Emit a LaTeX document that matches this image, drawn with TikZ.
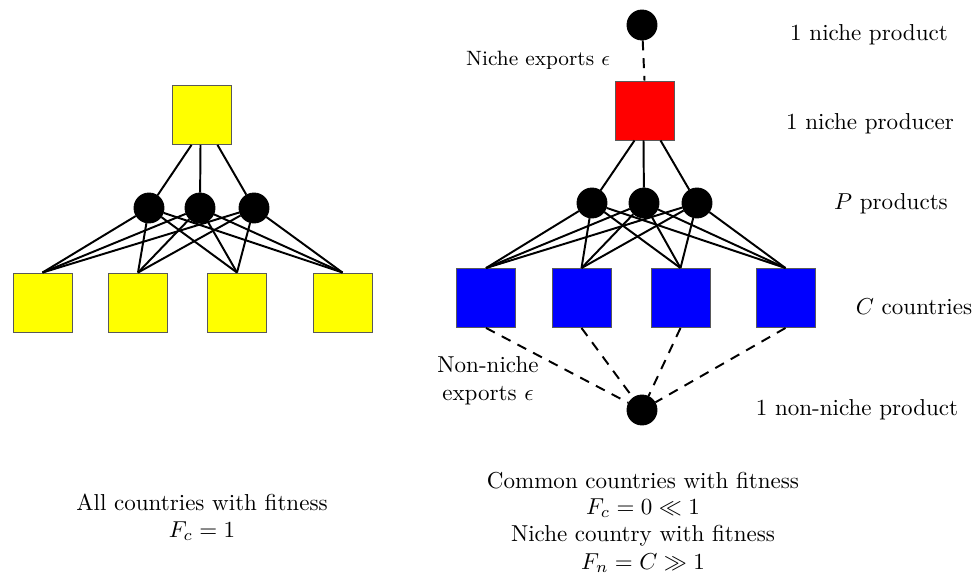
\documentclass[tikz,border=0pt]{standalone}
\usetikzlibrary{calc}
\definecolor{pyellow}{RGB}{255,255,0}
\definecolor{pred}{RGB}{255,0,0}
\definecolor{pblue}{RGB}{0,0,255}
\begin{document}
\begin{tikzpicture}[x=0.434pt,y=-0.434pt,
  sq/.style={draw=black!65, line width=0.4pt, minimum size=25.6pt, inner sep=0pt},
  prod/.style={circle, fill=black, draw=black, minimum size=13pt, inner sep=0pt},
  link/.style={line width=0.85pt},
  dlink/.style={line width=0.85pt, dash pattern=on 4.3pt off 3.4pt},
  lab/.style={inner sep=0pt, align=center}]
\useasboundingbox (0,0) rectangle (974,575);

% ---------- left panel ----------
\node[sq, fill=pyellow] (LT) at (201.5,115) {};
\node[prod] (Lc1) at (149,208) {};
\node[prod] (Lc2) at (200,208) {};
\node[prod] (Lc3) at (254,208) {};
\node[sq, fill=pyellow] (Ls1) at (42.5,302.5) {};
\node[sq, fill=pyellow] (Ls2) at (138,302.5) {};
\node[sq, fill=pyellow] (Ls3) at (237,302.5) {};
\node[sq, fill=pyellow] (Ls4) at (342.5,302.5) {};

\draw[link] ($(LT.south)+(-10,0)$) -- (Lc1);
\draw[link] ($(LT.south)+(-1,0)$) -- (Lc2);
\draw[link] ($(LT.south)+(16,0)$) -- (Lc3);
\foreach \c in {1,2,3}{
  \foreach \s in {1,2,3,4}{
    \draw[link] (Lc\c) -- (Ls\s.north);
  }
}

\node[lab] (Lcap1) at (202,502) {All countries with fitness};
\node[lab] (Lcap2) at (202,531) {$F_c = 1$};

% ---------- right panel ----------
\node[prod] (Nprod) at (642,25) {};
\node[sq, fill=pred] (Nsq) at (644.5,110.5) {};
\node[prod] (Rc1) at (592,203) {};
\node[prod] (Rc2) at (644,203) {};
\node[prod] (Rc3) at (697,203) {};
\node[sq, fill=pblue] (Rs1) at (486,298) {};
\node[sq, fill=pblue] (Rs2) at (581.5,298) {};
\node[sq, fill=pblue] (Rs3) at (680.5,298) {};
\node[sq, fill=pblue] (Rs4) at (785.5,298) {};
\node[prod] (NNprod) at (642,410) {};

\draw[dlink] (Nprod) -- (Nsq.north);
\draw[link] ($(Nsq.south)+(-10,0)$) -- (Rc1);
\draw[link] ($(Nsq.south)+(-1,0)$) -- (Rc2);
\draw[link] ($(Nsq.south)+(16,0)$) -- (Rc3);
\foreach \c in {1,2,3}{
  \foreach \s in {1,2,3,4}{
    \draw[link] (Rc\c) -- (Rs\s.north);
  }
}
\foreach \s in {1,2,3,4}{
  \draw[dlink] (Rs\s.south) -- (NNprod);
}

\node[lab, font=\small] (nicheexp) at (538,60) {Niche exports $\epsilon$};
\node[lab] (nonnicheexp) at (488,381) {Non-niche\\exports $\epsilon$};

\node[lab] (t1) at (869,35) {1 niche product};
\node[lab] (t2) at (870,124) {1 niche producer};
\node[lab] (t3) at (891,204) {$P$ products};
\node[lab] (t4) at (914,307) {$C$ countries};
\node[lab] (t5) at (857,410) {1 non-niche product};

\node[lab] (Rcap1) at (643,481) {Common countries with fitness};
\node[lab] (Rcap2) at (643,508) {$F_c = 0 \ll 1$};
\node[lab] (Rcap3) at (643,536) {Niche country with fitness};
\node[lab] (Rcap4) at (643,563) {$F_n = C \gg 1$};
\end{tikzpicture}
\end{document}
